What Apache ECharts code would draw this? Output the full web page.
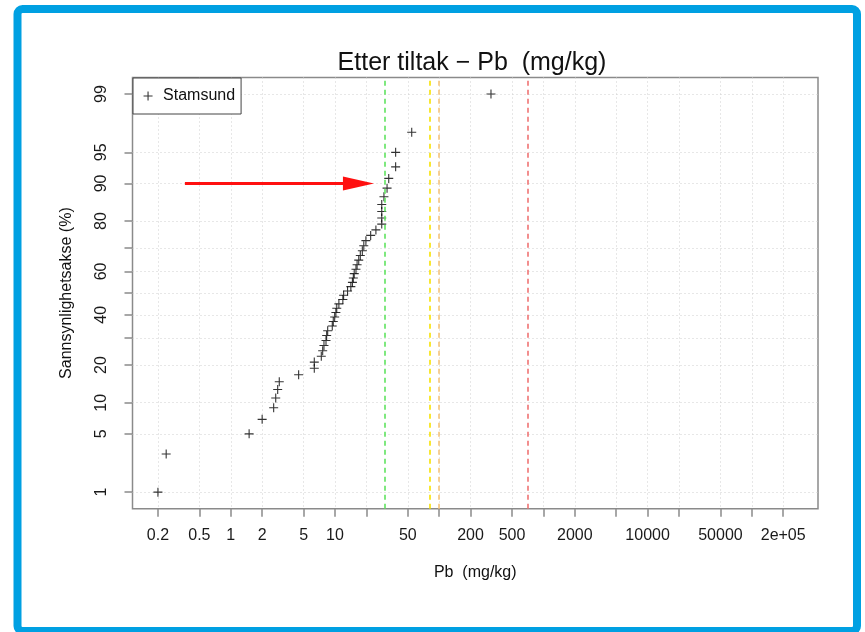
<!DOCTYPE html>
<html>
<head>
<meta charset="utf-8">
<title>Etter tiltak - Pb</title>
<script src="https://cdn.jsdelivr.net/npm/echarts@6.0.0/dist/echarts.min.js"></script>
<style>
  html, body { margin: 0; padding: 0; background: #fff; }
  #chart { width: 865px; height: 632px; }
</style>
</head>
<body>
<div id="chart"></div>
<script>
// Pb-verdier (mg/kg), sortert stigende
const pbValues = [0.2, 0.24, 1.5, 2.0, 2.58, 2.7, 2.82, 2.92, 4.48, 6.33,
  6.33, 7.39, 7.62, 7.84, 8.2, 8.32, 8.51, 9.42, 9.63, 9.93,
  10.2, 10.4, 10.9, 11.9, 12.1, 13.2, 14.2, 14.7, 15.0, 15.3,
  15.9, 16.3, 16.9, 17.5, 18.3, 18.9, 19.8, 22.0, 24.7, 28.1,
  28.1, 28.1, 28.1, 29.5, 31.6, 32.8, 38.2, 38.2, 54.5, 314]
// sannsynlighet (%) for hvert punkt, lest av y-aksen
const probValues = [1, 3, 5, 7, 9, 11, 13, 15, 17, 19,
  21, 23, 25, 27, 29, 31, 33, 35, 37, 39,
  41, 43, 45, 47, 49, 51, 53, 55, 57, 59,
  61, 63, 65, 67, 69, 71, 73, 75, 77, 79,
  81, 83, 85, 87, 89, 91, 93, 95, 97, 99]

const xTicks = [0.2, 0.5, 1, 2, 5, 10, 20, 50, 100, 200, 500, 1000, 2000, 5000, 10000, 20000, 50000, 100000, 200000]
const xLabelValues = [0.2, 0.5, 1, 2, 5, 10, 50, 200, 500, 2000, 10000, 50000, 200000]
const xLabelTexts = ['0.2', '0.5', '1', '2', '5', '10', '50', '200', '500', '2000', '10000', '50000', '2e+05']
const yTicks = [1, 5, 10, 20, 30, 40, 50, 60, 70, 80, 90, 95, 99]
const yLabelValues = [1, 5, 10, 20, 40, 60, 80, 90, 95, 99]

// grenseverdier (mg/kg) som stiplede linjer
const limitValues = [30, 82, 100, 700]
const limitColors = ['#5fe35f', '#f7e200', '#f6c47c', '#ef7373']

// pil ved 90 %
const arrowFrom = 0.363
const arrowTo = 16.8
const arrowProb = 90

// invers normalfordeling (Acklam)
function qnorm(p) {
  const a = [-3.969683028665376e+01, 2.209460984245205e+02, -2.759285104469687e+02, 1.383577518672690e+02, -3.066479806614716e+01, 2.506628277459239e+00]
  const b = [-5.447609879822406e+01, 1.615858368580409e+02, -1.556989798598866e+02, 6.680131188771972e+01, -1.328068155288572e+01]
  const c = [-7.784894002430293e-03, -3.223964580411365e-01, -2.400758277161838e+00, -2.549732539343734e+00, 4.374664141464968e+00, 2.938163982698783e+00]
  const d = [7.784695709041462e-03, 3.224671290700398e-01, 2.445134137142996e+00, 3.754408661907416e+00]
  const pl = 0.02425
  let q, r
  if (p < pl) {
    q = Math.sqrt(-2 * Math.log(p))
    return (((((c[0] * q + c[1]) * q + c[2]) * q + c[3]) * q + c[4]) * q + c[5]) / ((((d[0] * q + d[1]) * q + d[2]) * q + d[3]) * q + 1)
  }
  if (p <= 1 - pl) {
    q = p - 0.5
    r = q * q
    return (((((a[0] * r + a[1]) * r + a[2]) * r + a[3]) * r + a[4]) * r + a[5]) * q / (((((b[0] * r + b[1]) * r + b[2]) * r + b[3]) * r + b[4]) * r + 1)
  }
  q = Math.sqrt(-2 * Math.log(1 - p))
  return -(((((c[0] * q + c[1]) * q + c[2]) * q + c[3]) * q + c[4]) * q + c[5]) / ((((d[0] * q + d[1]) * q + d[2]) * q + d[3]) * q + 1)
}

const lg = v => Math.log10(v)
const qp = pct => qnorm(pct / 100)

function nearestLabel(value, vals, texts) {
  let best = 0
  for (let i = 1; i < vals.length; i++) {
    if (Math.abs(vals[i] - value) < Math.abs(vals[best] - value)) best = i
  }
  return texts[best]
}

const xLabelPos = xLabelValues.map(lg)
const yLabelPos = yLabelValues.map(qp)

const points = pbValues.map((v, i) => [lg(v), qp(probValues[i])])

const gray = '#8a8a8a'
const font = 'Liberation Sans, Arial, Helvetica, sans-serif'

const limitLines = limitValues.map((v, i) => ({
  xAxis: lg(v),
  lineStyle: { color: limitColors[i], width: 1.6, type: [5, 4] }
}))

const myChart = echarts.init(document.getElementById('chart'))
myChart.setOption({
  animation: false,
  backgroundColor: '#fff',
  textStyle: { fontFamily: font },
  graphic: [
    {
      type: 'rect',
      shape: { x: 17.5, y: 9, width: 839.5, height: 622, r: 5 },
      style: { fill: 'none', stroke: '#00a0e2', lineWidth: 8 },
      silent: true
    }
  ],
  title: {
    text: 'Etter tiltak \u2212 Pb  (mg/kg)',
    left: 467,
    top: 46,
    textAlign: 'center',
    textStyle: { fontSize: 25, fontWeight: 'normal', color: '#111', fontFamily: font }
  },
  legend: {
    data: ['Stamsund'],
    left: 133,
    top: 78,
    orient: 'vertical',
    padding: [10, 6, 10, 10],
    itemWidth: 20,
    itemHeight: 9,
    borderColor: '#444',
    borderWidth: 1,
    backgroundColor: '#fff',
    itemStyle: { borderWidth: 1.1 },
    textStyle: { fontSize: 16, color: '#111', fontFamily: font }
  },
  grid: {
    left: 132.5,
    right: 47,
    top: 77.5,
    bottom: 123.3,
    show: true,
    borderColor: gray,
    borderWidth: 1.5,
    backgroundColor: 'transparent'
  },
  xAxis: {
    type: 'value',
    min: -0.943,
    max: 5.635,
    name: 'Pb  (mg/kg)',
    nameLocation: 'middle',
    nameGap: 56,
    nameTextStyle: { fontSize: 16, color: '#111', fontFamily: font },
    axisLine: { show: false, onZero: false },
    axisTick: {
      show: true,
      length: 8,
      customValues: xTicks.map(lg),
      lineStyle: { color: gray, width: 1.5 }
    },
    axisLabel: {
      customValues: xLabelPos,
      margin: 19,
      fontSize: 16,
      color: '#1a1a1a',
      formatter: v => nearestLabel(v, xLabelPos, xLabelTexts)
    },
    splitLine: {
      show: true,
      lineStyle: { color: '#cfcfcf', width: 1, type: [1, 3] }
    }
  },
  yAxis: {
    type: 'value',
    min: -2.52,
    max: 2.52,
    name: 'Sannsynlighetsakse (%)',
    nameLocation: 'middle',
    nameRotate: 90,
    nameGap: 58,
    nameTextStyle: { fontSize: 16, color: '#111', fontFamily: font },
    axisLine: { show: false, onZero: false },
    axisTick: {
      show: true,
      length: 8,
      customValues: yTicks.map(qp),
      lineStyle: { color: gray, width: 1.5 }
    },
    axisLabel: {
      customValues: yLabelPos,
      rotate: 90,
      margin: 23,
      fontSize: 16,
      color: '#1a1a1a',
      formatter: v => String(nearestLabel(v, yLabelPos, yLabelValues))
    },
    splitLine: {
      show: true,
      lineStyle: { color: '#cfcfcf', width: 1, type: [1, 3] }
    }
  },
  series: [
    {
      name: 'Stamsund',
      type: 'scatter',
      data: points,
      symbol: 'path://M0,5L10,5M5,0L5,10',
      symbolSize: 9,
      itemStyle: { color: 'rgba(0,0,0,0)', borderColor: '#000', borderWidth: 1.1 },
      z: 3,
      markLine: {
        silent: true,
        animation: false,
        symbol: ['none', 'none'],
        label: { show: false },
        emphasis: { disabled: true },
        data: [
          ...limitLines,
          [
            { coord: [lg(arrowFrom), qp(arrowProb)], symbol: 'none' },
            { coord: [lg(arrowTo), qp(arrowProb)], symbol: 'triangle', symbolSize: [14, 31] }
          ]
        ],
        lineStyle: { color: '#ff1010', width: 3, type: 'solid' }
      }
    }
  ]
})
</script>
</body>
</html>
